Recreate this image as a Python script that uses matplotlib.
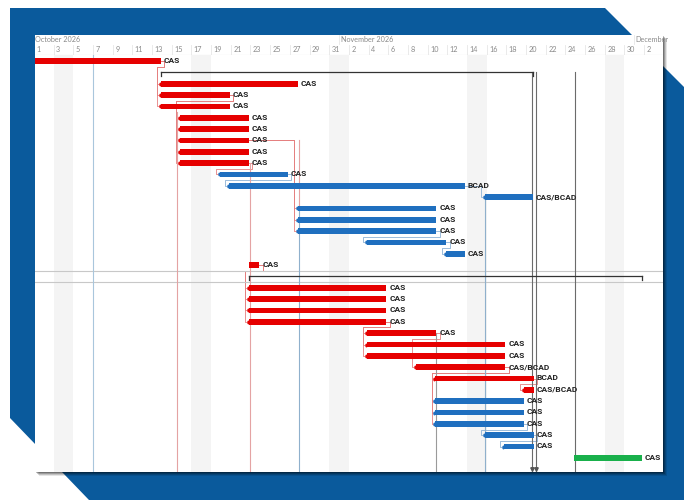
import matplotlib
matplotlib.use("Agg")
import matplotlib.pyplot as plt
from matplotlib.patches import Polygon, Rectangle

# days counted from 1 October 2026, 00:00
RED, BLUE, GREEN = "#e60000", "#1f6fbf", "#19b04b"

bar_rows = [0, 2, 3, 4, 5, 6, 7, 8, 9, 10, 11, 12, 13, 14, 15, 16, 17, 18,
            20, 21, 22, 23, 24, 25, 26, 27, 28, 29, 30, 31, 32, 33, 34, 35]
bar_start = [-3.0, 12.9, 12.9, 12.9, 14.8, 14.8, 14.8, 14.8, 14.8, 18.9, 19.8, 45.8,
             26.8, 26.8, 26.8, 33.8, 41.9, 21.8,
             21.8, 21.8, 21.8, 21.8, 33.8, 33.8, 33.8, 38.8, 40.8, 49.8,
             40.8, 40.8, 40.8, 45.8, 47.8, 54.9]
bar_end = [12.9, 26.8, 19.9, 19.9, 21.8, 21.8, 21.8, 21.8, 21.8, 25.8, 43.8, 50.7,
           40.9, 40.9, 40.9, 41.9, 43.8, 22.9,
           35.8, 35.8, 35.8, 35.8, 40.9, 47.9, 47.9, 47.9, 50.8, 50.8,
           49.8, 49.8, 49.8, 50.8, 50.8, 61.8]
bar_color = ["r", "r", "r", "r", "r", "r", "r", "r", "r", "b", "b", "b",
             "b", "b", "b", "b", "b", "r",
             "r", "r", "r", "r", "r", "r", "r", "r", "r", "r",
             "b", "b", "b", "b", "b", "g"]
bar_label = ["CAS", "CAS", "CAS", "CAS", "CAS", "CAS", "CAS", "CAS", "CAS", "CAS", "BCAD", "CAS/BCAD",
             "CAS", "CAS", "CAS", "CAS", "CAS", "CAS",
             "CAS", "CAS", "CAS", "CAS", "CAS", "CAS", "CAS", "CAS/BCAD", "BCAD", "CAS/BCAD",
             "CAS", "CAS", "CAS", "CAS", "CAS", "CAS"]

summary_rows = [1, 19]
summary_start = [12.9, 21.8]
summary_end = [50.7, 61.8]

milestone_row = 36
milestone_days = [50.6, 51.0]

# links between rows (predecessor row, successor row)
link_pred = [0, 0, 0, 3, 3, 3, 3, 3, 9, 10, 11, 7, 7, 7, 15, 16,
             18, 18, 18, 18, 23, 23, 23, 24, 27, 28, 27, 27, 27, 32, 33]
link_succ = [2, 3, 4, 5, 6, 7, 8, 9, 10, 11, 12, 13, 14, 15, 16, 17,
             20, 21, 22, 23, 24, 25, 26, 27, 28, 29, 30, 31, 32, 33, 34]

# guide lines: day, first row, last row, colour
guide_day = [6.0, 14.5, 21.9, 26.9, 26.9, 40.85, 45.8, 50.6, 51.0, 55.0]
guide_top = [-0.5, 4.5, 9.0, 7.0, 13.0, 24.0, 12.0, 1.0, 1.0, 1.0]
guide_bot = [36.8, 36.8, 36.8, 13.0, 36.8, 36.8, 36.8, 36.8, 36.8, 36.8]
guide_col = ["#a9c6dc", "#e4a3a3", "#e4a3a3", "#e4a3a3", "#8fb0cc", "#9a9a9a",
             "#8fb0cc", "#6b6b6b", "#6b6b6b", "#6b6b6b"]

shade_start = [2, 16, 30, 44, 58]

months = ["October 2026", "November 2026", "December"]
month_day = [0, 31, 61]
tick_day = list(range(0, 64, 2))
tick_lab = [str(d + 1) for d in range(0, 31, 2)] + [str(d - 30) for d in range(32, 61, 2)] + ["2"]

colmap = {"r": RED, "b": BLUE, "g": GREEN}
linkcol = {"r": "#e58080", "b": "#8db2d6", "g": "#888888"}
plt.rcParams["font.family"] = ["Lato", "DejaVu Sans"]

fig = plt.figure(figsize=(6.84, 5.0), dpi=100)
fig.patch.set_facecolor("white")

# decorative background
bg = fig.add_axes([0, 0, 1, 1])
bg.set_xlim(0, 684)
bg.set_ylim(500, 0)
bg.axis("off")
bg.add_patch(Polygon([(10, 8), (605, 8), (684, 87), (684, 500), (89, 500), (10, 418)],
                     closed=True, color="#0a5a9c", lw=0))
for k, a in zip(range(1, 5), [0.25, 0.2, 0.15, 0.1]):
    bg.add_patch(Rectangle((35 + k, 35 + k), 628, 437, color="black", alpha=a, lw=0))
bg.add_patch(Rectangle((35, 35), 628, 437, color="white", lw=0))

L, R = 35 / 684, 663 / 684
xmin, xmax = 0.1, 0.1 + 628 / 9.84

# header
hx = fig.add_axes([L, 1 - 55 / 500, R - L, 20 / 500])
hx.set_xlim(xmin, xmax)
hx.set_ylim(20, 0)
hx.axis("off")
hx.axhline(20, color="#d8d8d8", lw=0.8)
for m, d in zip(months, month_day):
    hx.text(d + 0.15, 4.8, m, fontsize=5.2, color="#8a8a8a", va="center", ha="left")
    hx.plot([d, d], [0, 9], color="#e8e8e8", lw=0.6)
for d, lab in zip(tick_day, tick_lab):
    hx.plot([d, d], [10, 20], color="#e6e6e6", lw=0.6)
    hx.text(d + 0.25, 14.6, lab, fontsize=5.2, color="#8a8a8a", va="center", ha="left")

# chart
ax = fig.add_axes([L, 28 / 500, R - L, 417 / 500])
ax.set_xlim(xmin, xmax)
ax.set_ylim((472 - 61) / 11.34, -6 / 11.34)
ax.axis("off")

for s in shade_start:
    ax.axvspan(s, s + 2, color="#f4f4f4", lw=0)

ax.axhline(18.5, color="#c8c8c8", lw=0.8)
ax.axhline(19.5, color="#c8c8c8", lw=0.8)

for d, t, b, c in zip(guide_day, guide_top, guide_bot, guide_col):
    ax.plot([d, d], [t, b], color=c, lw=0.8)

# elbow connectors
idx = {r: i for i, r in enumerate(bar_rows)}
for p, q in zip(link_pred, link_succ):
    e, c = bar_end[idx[p]], bar_color[idx[p]]
    s = bar_start[idx[q]]
    if s >= e + 0.5:
        xs = [e, s - 0.4, s - 0.4, s]
        ys = [p, p, q, q]
    else:
        xs = [e, e + 0.35, e + 0.35, s - 0.4, s - 0.4, s]
        ys = [p, p, p + 0.5, p + 0.5, q, q]
    ax.plot(xs, ys, color=linkcol[c], lw=0.6, zorder=1)
    ax.plot(s, q, ">", color=colmap[bar_color[idx[q]]], ms=2, zorder=3)

for r, s, e, c, lab in zip(bar_rows, bar_start, bar_end, bar_color, bar_label):
    ax.barh(r, e - s, left=s, height=0.5, color=colmap[c], lw=0, zorder=2)
    ax.text(e + 0.3, r - 0.05, lab, fontsize=6.0, fontweight="bold", color="#222222",
            family=["Roboto", "DejaVu Sans"], va="center", ha="left", zorder=4)

for r, s, e in zip(summary_rows, summary_start, summary_end):
    ax.plot([s, e], [r, r], color="#333333", lw=0.9)
    ax.plot([s, s], [r, r + 0.3], color="#333333", lw=0.9)
    ax.plot([e, e], [r, r + 0.3], color="#333333", lw=0.9)

ax.plot(milestone_days, [milestone_row] * len(milestone_days), "v", color="#555555", ms=2.5)

fig.savefig("out.png", dpi=100)
